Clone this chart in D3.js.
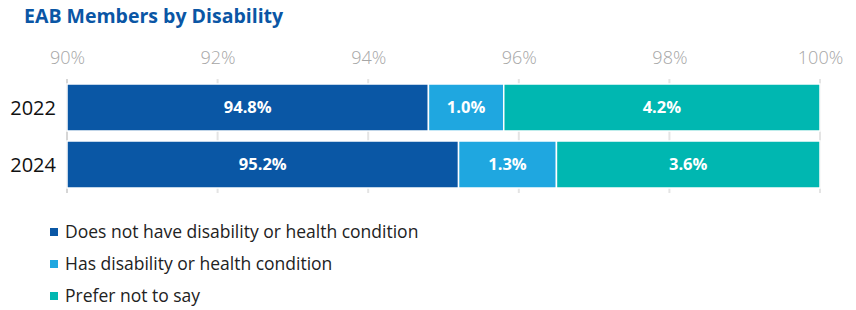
<!DOCTYPE html>
<html>
<head>
<meta charset="utf-8">
<script src="https://cdn.jsdelivr.net/npm/d3@7"></script>
<style>
  body { margin: 0; background: #fff; }
  svg text { font-family: "Open Sans", sans-serif; }
</style>
</head>
<body>
<div id="chart"></div>
<script>
// data
const years = ["2022", "2024"];
const series = ["Does not have disability or health condition", "Has disability or health condition", "Prefer not to say"];
const notDisabled = [94.8, 95.2];
const hasDisability = [1.0, 1.3];
const preferNot = [4.2, 3.6];
const xTicks = [90, 92, 94, 96, 98, 100];
const colors = ["#0a57a5", "#1fa7e0", "#00b7b1"];

var svgWidth = 856;
var svgHeight = 310;

var svg = d3.select("#chart")
  .append("svg")
  .attr("width", svgWidth)
  .attr("height", svgHeight);

// title
svg.append("text")
  .attr("x", 24)
  .attr("y", 23)
  .attr("fill", "#0a56a5")
  .attr("font-weight", 700)
  .attr("font-size", 19.5)
  .text("EAB Members by Disability");

var xScale = d3.scaleLinear()
  .domain([90, 100])
  .range([67, 820]);

var yScale = d3.scaleBand()
  .domain(years)
  .range([84, 188])
  .paddingInner(10 / 57)
  .paddingOuter(0);

// grid lines (behind bars)
svg.append("g")
  .selectAll("line")
  .data(xTicks)
  .enter()
  .append("line")
  .attr("x1", d => xScale(d))
  .attr("x2", d => xScale(d))
  .attr("y1", 79)
  .attr("y2", 193)
  .attr("stroke", d => d == 90 ? "#c8c8c8" : "#e4e4e4")
  .attr("stroke-width", d => d == 90 ? 1.5 : 2);

// top axis labels
var topAxis = d3.axisTop(xScale)
  .tickValues(xTicks)
  .tickSize(0)
  .tickPadding(0)
  .tickFormat(d => d + "%");

var axisG = svg.append("g")
  .attr("transform", "translate(0, 64)")
  .call(topAxis);
axisG.select(".domain").remove();
axisG.selectAll("text")
  .attr("fill", "#a6a6a6")
  .attr("font-size", 18)
  .attr("font-weight", 300)
  .style("font-family", "'Open Sans', sans-serif");

// stack data
var rows = years.map((y, i) => ({
  year: y,
  a: notDisabled[i],
  b: hasDisability[i],
  c: preferNot[i]
}));
var stack = d3.stack().keys(["a", "b", "c"]);
var stacked = stack(rows);

var layers = svg.append("g")
  .selectAll("g")
  .data(stacked)
  .enter()
  .append("g")
  .attr("fill", (d, i) => colors[i]);

layers.selectAll("rect")
  .data(d => d)
  .enter()
  .append("rect")
  .attr("x", d => xScale(Math.max(90, d[0])))
  .attr("y", d => yScale(d.data.year))
  .attr("width", d => xScale(Math.min(100, d[1])) - xScale(Math.max(90, d[0])))
  .attr("height", yScale.bandwidth())
  .attr("stroke", "#fff")
  .attr("stroke-width", 1.5);

layers.selectAll("text")
  .data(d => d.map(p => ({ p: p, key: d.key })))
  .enter()
  .append("text")
  .attr("x", d => (xScale(Math.max(90, d.p[0])) + xScale(Math.min(100, d.p[1]))) / 2)
  .attr("y", d => yScale(d.p.data.year) + yScale.bandwidth() / 2)
  .attr("dy", "0.35em")
  .attr("text-anchor", "middle")
  .attr("fill", "#fff")
  .attr("font-weight", 700)
  .attr("font-size", 16.5)
  .text(d => d.p.data[d.key].toFixed(1) + "%");

// year labels
svg.append("g")
  .selectAll("text")
  .data(years)
  .enter()
  .append("text")
  .attr("x", 56)
  .attr("y", d => yScale(d) + yScale.bandwidth() / 2)
  .attr("dy", "0.35em")
  .attr("text-anchor", "end")
  .attr("fill", "#111")
  .attr("font-size", 20)
  .text(d => d);

// legend
var legendY = [232, 264, 296];
var legend = svg.append("g")
  .selectAll("g")
  .data(series)
  .enter()
  .append("g")
  .attr("transform", (d, i) => `translate(50, ${legendY[i]})`);

legend.append("rect")
  .attr("x", 0)
  .attr("y", -4)
  .attr("width", 8)
  .attr("height", 8)
  .attr("fill", (d, i) => colors[i]);

legend.append("text")
  .attr("x", 15)
  .attr("dy", "0.35em")
  .attr("fill", "#222")
  .attr("font-size", 17.5)
  .text(d => d);
</script>
</body>
</html>
